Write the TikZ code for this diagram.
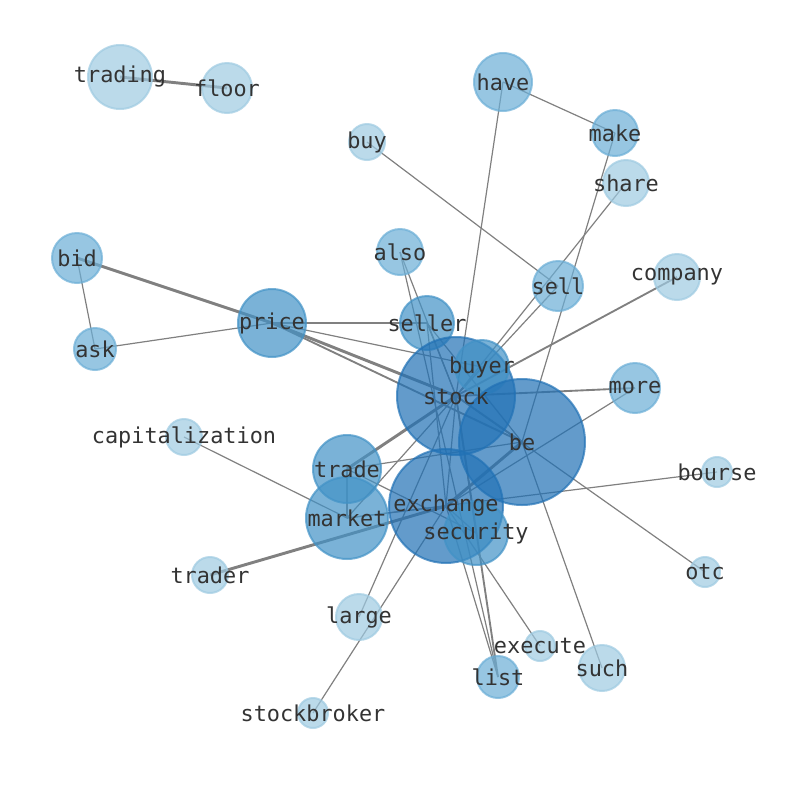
\documentclass[tikz,border=0pt]{standalone}
\usepackage{fontspec}
\usepackage{tikz}
\usetikzlibrary{positioning, calc}
\newfontfamily\wordfont{DejaVu Sans Mono}
\definecolor{blueA}{HTML}{9ECAE1}
\definecolor{blueB}{HTML}{6BAED6}
\definecolor{blueC}{HTML}{4292C6}
\definecolor{blueD}{HTML}{2171B5}
\definecolor{linkgray}{HTML}{808080}
\definecolor{wordgray}{HTML}{333333}
\pgfdeclarelayer{links}
\pgfdeclarelayer{words}
\pgfsetlayers{links,main,words}

\begin{document}
\begin{tikzpicture}[
        x=0.75pt, y=-0.75pt,
        word/.style={circle, inner sep=0pt, line width=1.5pt, fill opacity=0.7, draw opacity=0.7, minimum size=#1*1.5pt},
        wA/.style={word=#1, fill=blueA, draw=blueA},
        wB/.style={word=#1, fill=blueB, draw=blueB},
        wC/.style={word=#1, fill=blueC, draw=blueC},
        wD/.style={word=#1, fill=blueD, draw=blueD},
        link/.style={linkgray, line width=0.9pt},
        linkm/.style={linkgray, line width=1.4pt},
        linkt/.style={linkgray, line width=2.2pt},
        lbl/.style={font=\wordfont\fontsize{16.4}{18}\selectfont, text=wordgray, inner sep=0pt}
    ]
        \useasboundingbox (0,0) rectangle (794,790);

        % Nodes
        \node[wA=32] (trading) at (120,77) {};
        \node[wA=25] (floor) at (227,88) {};
        \node[wB=29] (have) at (503,82) {};
        \node[wB=23] (make) at (615,133) {};
        \node[wA=23] (share) at (626,183) {};
        \node[wA=18] (buy) at (367,142) {};
        \node[wA=23] (company) at (677,277) {};
        \node[wB=25] (bid) at (77,258) {};
        \node[wB=21] (ask) at (95,349) {};
        \node[wB=23] (also) at (400,252) {};
        \node[wB=25] (sell) at (558,286) {};
        \node[wC=34] (price) at (272,323) {};
        \node[wC=27] (seller) at (427,323) {};
        \node[wD=59] (stock) at (456,396) {};
        \node[wC=27] (buyer) at (482,367) {};
        \node[wB=25] (more) at (635,388) {};
        \node[wD=63] (be) at (522,442) {};
        \node[wA=18] (capitalization) at (184,437) {};
        \node[wA=15] (bourse) at (717,472) {};
        \node[wC=34] (trade) at (347,469) {};
        \node[wC=41] (market) at (347,518) {};
        \node[wD=57] (exchange) at (446,506) {};
        \node[wC=32] (security) at (476,533) {};
        \node[wA=18] (trader) at (210,575) {};
        \node[wA=15] (otc) at (705,572) {};
        \node[wA=23] (large) at (359,617) {};
        \node[wA=15] (execute) at (540,646) {};
        \node[wB=21] (list) at (498,677) {};
        \node[wA=23] (such) at (602,668) {};
        \node[wA=15] (stockbroker) at (313,713) {};

        % Lines
        \begin{pgfonlayer}{links}
        \draw[linkt] (trading.center) -- (floor.center);
        \draw[link] (have.center) -- (make.center);
        \draw[link] (have.center) -- (stock.center);
        \draw[link] (make.center) -- (be.center);
        \draw[link] (share.center) -- (stock.center);
        \draw[link] (buy.center) -- (sell.center);
        \draw[link] (sell.center) -- (stock.center);
        \draw[linkm] (company.center) -- (stock.center);
        \draw[linkt] (bid.center) -- (price.center);
        \draw[link] (bid.center) -- (ask.center);
        \draw[link] (ask.center) -- (price.center);
        \draw[linkm] (price.center) -- (seller.center);
        \draw[link] (price.center) -- (buyer.center);
        \draw[linkt] (price.center) -- (stock.center);
        \draw[linkm] (price.center) -- (be.center);
        \draw[link] (also.center) -- (stock.center);
        \draw[link] (also.center) -- (list.center);
        \draw[link] (seller.center) -- (stock.center);
        \draw[link] (seller.center) -- (be.center);
        \draw[link] (seller.center) -- (exchange.center);
        \draw[link] (buyer.center) -- (stock.center);
        \draw[linkm] (more.center) -- (stock.center);
        \draw[link] (more.center) -- (exchange.center);
        \draw[link] (stock.center) -- (otc.center);
        \draw[linkm] (stock.center) -- (be.center);
        \draw[link] (stock.center) -- (exchange.center);
        \draw[link] (stock.center) -- (security.center);
        \draw[link] (stock.center) -- (market.center);
        \draw[linkt] (trade.center) -- (stock.center);
        \draw[link] (trade.center) -- (be.center);
        \draw[link] (trade.center) -- (market.center);
        \draw[link] (trade.center) -- (security.center);
        \draw[link] (capitalization.center) -- (market.center);
        \draw[link] (market.center) -- (bourse.center);
        \draw[link] (market.center) -- (exchange.center);
        \draw[linkt] (trader.center) -- (exchange.center);
        \draw[linkt] (exchange.center) -- (be.center);
        \draw[link] (exchange.center) -- (security.center);
        \draw[link] (exchange.center) -- (stockbroker.center);
        \draw[link] (exchange.center) -- (execute.center);
        \draw[link] (exchange.center) -- (list.center);
        \draw[linkm] (list.center) -- (stock.center);
        \draw[link] (large.center) -- (stock.center);
        \draw[link] (such.center) -- (be.center);
        \end{pgfonlayer}

        % Labels
        \begin{pgfonlayer}{words}
        \foreach \w in {trading, floor, have, make, share, buy, company, bid, ask, also,
            sell, price, seller, stock, buyer, more, be, capitalization, bourse, trade,
            market, exchange, security, trader, otc, large, execute, list, such, stockbroker}
            \node[lbl] (\w-text) at (\w) {\w};
        \end{pgfonlayer}
    \end{tikzpicture}
\end{document}
